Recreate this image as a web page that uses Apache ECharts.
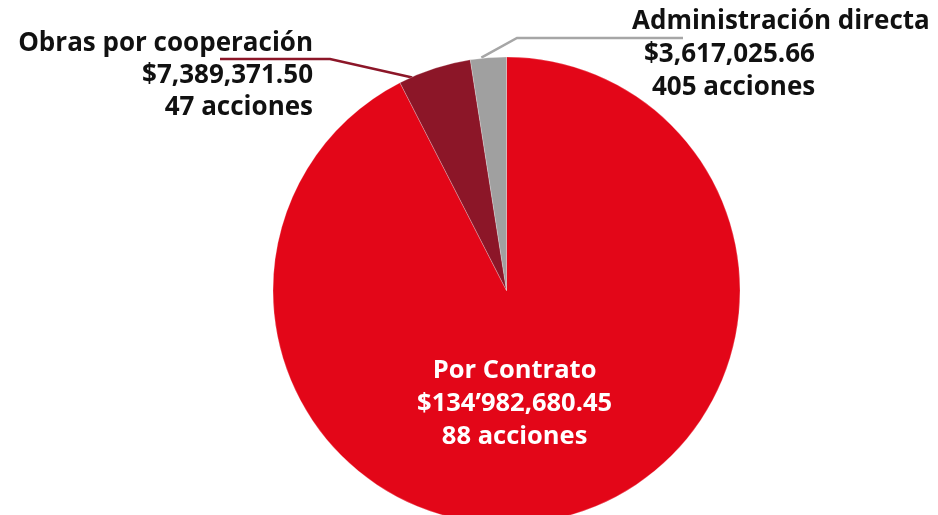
<!DOCTYPE html>
<html>
<head>
<meta charset="utf-8">
<script src="https://cdn.jsdelivr.net/npm/echarts@6/dist/echarts.min.js"></script>
<style>
html,body{margin:0;padding:0;background:#fff;}
#c{width:938px;height:515px;}
</style>
</head>
<body>
<div id="c"></div>
<script>
const categories = ['Por Contrato', 'Obras por cooperación', 'Administración directa'];
const amounts = [134982680.45, 7389371.50, 3617025.66];
const amountLabels = ['$134’982,680.45', '$7,389,371.50', '$3,617,025.66'];
const actions = [88, 47, 405];
const colors = ['#E30618', '#8C1628', '#A0A0A0'];

const FONT = 'Open Sans';
const FS = 26;
const chart = echarts.init(document.getElementById('c'));

const data = categories.map((name, i) => ({
  name: name,
  value: amounts[i],
  itemStyle: { color: colors[i] },
  label: i === 0 ? {
    position: 'inside',
    color: '#fff',
    formatter: '{t|' + name + '}\n{t|' + amountLabels[i] + '}\n{t|' + actions[i] + ' acciones}',
    rich: { t: { fontFamily: FONT, fontWeight: 'bold', fontSize: 25.5, lineHeight: 33, color: '#fff', align: 'center' } }
  } : i === 1 ? {
    position: 'outside',
    formatter: '{t|' + name + '}\n{t|' + amountLabels[i] + '}\n{t|' + actions[i] + ' acciones}',
    rich: { t: { fontFamily: FONT, fontWeight: 'bold', fontSize: FS, lineHeight: 32, color: '#111', align: 'right' } }
  } : {
    position: 'outside',
    formatter: '{t|' + name + '}\n{s|' + amountLabels[i] + '}\n{u|' + actions[i] + ' acciones}',
    rich: {
      t: { fontFamily: FONT, fontWeight: 'bold', fontSize: FS, lineHeight: 33, color: '#111', align: 'left' },
      s: { fontFamily: FONT, fontWeight: 'bold', fontSize: FS, lineHeight: 33, color: '#111', align: 'left', padding: [0, 0, 0, 12] },
      u: { fontFamily: FONT, fontWeight: 'bold', fontSize: FS, lineHeight: 33, color: '#111', align: 'left', padding: [0, 0, 0, 20] }
    }
  },
  labelLine: i === 0 ? { show: false } : { show: true, lineStyle: { color: i === 1 ? '#8C1628' : '#A6A6A6', width: 2.5 } }
}));

chart.setOption({
  animation: false,
  backgroundColor: '#fff',
  series: [{
    type: 'pie',
    center: [506.5, 290.5],
    radius: [0, 233.5],
    startAngle: 90,
    clockwise: true,
    avoidLabelOverlap: false,
    itemStyle: { borderColor: 'rgba(255,255,255,0.4)', borderWidth: 0.6 },
    data: data,
    labelLayout: function (p) {
      const start = (p.labelLinePoints && p.labelLinePoints[0]) || [0, 0];
      if (p.dataIndex === 0) {
        return { dx: -20, dy: -3 };
      }
      if (p.dataIndex === 1) {
        return {
          x: 313, y: 28, align: 'right', verticalAlign: 'top',
          labelLinePoints: [[start[0] - 22, start[1] + 9], [330, 59], [220, 59]]
        };
      }
      return {
        x: 632, y: 5, align: 'left', verticalAlign: 'top',
        labelLinePoints: [[start[0] - 7, start[1]], [517, 38], [683, 38]]
      };
    }
  }]
});
</script>
</body>
</html>
